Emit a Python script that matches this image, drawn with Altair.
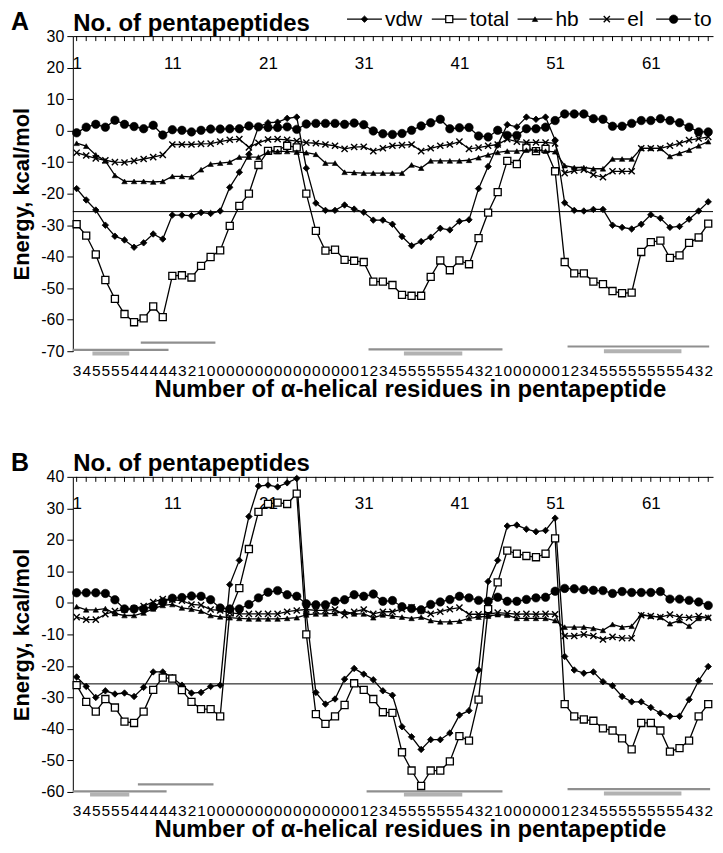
import json
import altair as alt
import pandas as pd

FONT = "Liberation Sans"
series = ["vdw", "total", "hb", "el", "to"]
idx = list(range(1, 68))
top_labels = [1, 11, 21, 31, 41, 51, 61]
helical = ([3, 4, 5, 5, 5, 5, 4, 4, 4, 4, 4, 3, 2, 1] + [0] * 16 +
           [1, 2, 3, 4, 5, 5, 5, 5, 5, 5, 5, 4, 3, 2, 1] + [0] * 6 +
           [1, 2, 3, 4] + [5] * 9 + [4, 3, 2])
threshold = [-25.7]

# ---------------- Panel A ----------------
A_vdw = [-18.4, -22.0, -25.2, -30.0, -33.5, -34.7, -37.0, -35.6, -32.8, -34.4,
         -26.8, -26.8, -27.0, -26.0, -26.3, -25.5, -18.0, -13.2, -7.5, 1.2,
         2.5, 2.7, 3.9, 4.3, -11.9, -23.0, -25.3, -25.3, -23.6, -24.9,
         -25.9, -28.4, -28.4, -29.7, -33.6, -36.5, -35.2, -33.8, -31.0, -31.5,
         -28.8, -28.3, -18.4, -11.4, -4.6, 1.9, 1.2, 4.3, 3.6, 4.3,
         -3.0, -22.9, -25.3, -25.5, -25.0, -25.0, -30.0, -30.7, -31.2, -29.7,
         -26.7, -27.8, -30.7, -30.4, -28.1, -25.5, -22.6]
A_total = [-29.7, -33.3, -39.3, -47.4, -53.4, -58.2, -60.8, -59.6, -55.8, -59.2,
           -46.1, -45.9, -46.6, -42.9, -40.1, -38.0, -30.2, -23.9, -20.0, -10.9,
           -6.4, -6.2, -4.8, -5.3, -20.0, -31.8, -38.1, -37.8, -41.0, -41.3,
           -41.7, -47.9, -47.9, -49.0, -52.1, -52.4, -52.4, -46.4, -41.2, -44.3,
           -41.2, -42.4, -34.1, -26.0, -19.5, -9.6, -10.6, -5.4, -6.5, -5.8,
           -12.9, -41.7, -45.3, -45.3, -47.9, -48.7, -50.9, -51.6, -51.4, -38.5,
           -35.4, -34.9, -40.4, -39.6, -35.6, -33.9, -29.5]
A_hb = [-4.0, -4.9, -7.7, -9.6, -14.2, -16.1, -16.1, -16.1, -16.3, -16.1,
        -14.5, -14.5, -14.7, -12.4, -10.6, -10.3, -10.0, -8.4, -8.4, -8.4,
        -6.8, -6.6, -6.6, -6.8, -7.0, -7.5, -10.3, -10.3, -13.2, -13.3,
        -13.5, -13.5, -13.5, -13.5, -13.5, -10.9, -11.9, -9.6, -9.6, -9.6,
        -9.6, -9.4, -8.6, -7.7, -6.9, -6.5, -6.5, -6.2, -6.2, -6.5,
        -6.7, -11.1, -11.7, -11.7, -12.1, -12.1, -9.0, -9.0, -9.0, -5.6,
        -5.6, -5.6, -8.2, -7.2, -6.2, -4.8, -3.5]
A_el = [-7.0, -7.9, -8.8, -9.4, -10.0, -10.1, -9.6, -9.0, -8.4, -7.7,
        -4.4, -4.4, -4.4, -4.2, -4.1, -3.5, -2.9, -2.7, -5.3, -3.9,
        -2.8, -2.7, -2.9, -3.3, -3.8, -4.0, -4.4, -4.8, -5.8, -5.2,
        -5.1, -6.5, -5.6, -4.8, -4.6, -4.4, -6.5, -5.6, -4.8, -4.4,
        -3.5, -5.8, -5.4, -4.8, -4.4, -2.7, -3.5, -3.75, -3.75, -3.75,
        -4.05, -13.5, -12.7, -12.4, -14.0, -14.8, -12.9, -12.9, -12.9, -5.6,
        -5.6, -5.6, -4.8, -4.05, -3.0, -2.5, -2.0]
A_to = [-0.7, 1.1, 2.0, 1.1, 3.3, 2.0, 1.3, 0.6, 1.7, -1.4,
        0.3, 0.1, -0.4, 0.1, 0.5, 0.5, 0.6, 0.6, 1.5, 1.2,
        1.0, 1.0, 1.2, 0.4, 2.1, 2.3, 2.3, 2.3, 2.0, 2.4,
        1.9, -0.1, -1.0, -1.2, -0.9, 0.1, 1.5, 2.5, 3.6, 0.6,
        0.9, 1.0, -1.7, -2.0, 0.1, -1.5, -1.5, 0.6, 0.6, 1.1,
        3.2, 5.3, 5.3, 5.3, 3.8, 3.6, 1.4, 1.4, 2.3, 3.2,
        3.2, 3.8, 3.2, 2.5, 1.1, -0.4, -0.4]

# ---------------- Panel B ----------------
B_vdw = [-23.5, -26.5, -30.0, -27.9, -28.9, -28.6, -29.7, -26.8, -21.9, -21.9,
         -23.7, -26.1, -28.6, -28.4, -26.5, -26.1, 5.8, 13.5, 27.4, 37.1,
         37.4, 36.8, 38.1, 39.5, -3.5, -28.4, -32.1, -30.5, -24.2, -20.8,
         -22.6, -24.4, -27.9, -29.3, -39.3, -42.5, -46.5, -43.4, -43.4, -41.3,
         -35.6, -34.2, -21.3, 6.8, 13.5, 24.4, 24.7, 23.4, 22.6, 23.0,
         26.9, -17.0, -21.3, -22.3, -21.9, -25.0, -26.3, -29.7, -31.4, -31.4,
         -33.2, -35.0, -36.0, -36.0, -30.7, -24.7, -20.2]
B_total = [-26.1, -31.4, -34.5, -30.5, -33.2, -37.7, -38.1, -34.5, -27.6, -23.7,
           -24.0, -27.7, -31.4, -33.7, -33.7, -36.0, -3.0, 4.7, 17.1, 28.9,
           31.4, 31.8, 31.4, 34.7, -10.0, -35.3, -38.4, -36.0, -32.4, -25.5,
           -27.6, -30.5, -34.7, -34.9, -47.4, -53.2, -58.1, -53.2, -53.2, -50.3,
           -42.3, -43.7, -30.7, -2.0, 6.5, 16.6, 15.6, 14.9, 14.5, 15.6,
           20.5, -32.1, -36.0, -37.0, -37.4, -39.8, -40.5, -43.0, -46.5, -38.1,
           -38.1, -40.5, -47.2, -46.1, -43.7, -36.0, -32.1]
B_hb = [-1.2, -2.2, -2.2, -1.8, -3.4, -4.0, -4.0, -3.2, -1.9, -0.8,
        -0.5, -1.6, -2.0, -2.6, -4.0, -4.4, -4.7, -4.9, -5.1, -5.1,
        -5.1, -5.1, -4.9, -4.7, -3.8, -3.5, -3.5, -3.3, -2.7, -3.5,
        -3.5, -4.7, -3.8, -4.2, -4.5, -4.9, -4.5, -5.6, -6.0, -6.0,
        -5.8, -4.9, -4.5, -4.2, -3.7, -3.9, -4.9, -4.9, -4.9, -4.9,
        -5.6, -7.7, -7.7, -7.7, -8.1, -8.7, -6.8, -7.7, -7.4, -3.7,
        -4.2, -4.5, -6.6, -5.6, -7.4, -4.9, -4.5]
B_el = [-4.5, -5.3, -5.3, -3.6, -2.6, -2.1, -1.8, -1.0, 0.3, 1.2,
        1.0, 0.7, -0.5, -0.7, -2.1, -2.4, -3.1, -3.5, -3.5, -3.5,
        -3.5, -3.5, -2.8, -2.4, -2.1, -2.4, -2.4, -2.1, -3.9, -2.8,
        -2.1, -3.5, -2.8, -2.8, -2.0, -1.4, -2.4, -3.5, -2.8, -2.0,
        -1.5, -3.6, -3.6, -3.6, -3.1, -3.3, -3.6, -3.5, -3.6, -3.5,
        -3.6, -10.5, -10.5, -10.0, -10.5, -11.6, -10.8, -11.2, -11.2, -3.9,
        -4.2, -4.5, -3.7, -4.5, -4.7, -4.2, -4.7]
B_to = [3.2, 3.2, 3.2, 3.0, 1.0, -1.9, -1.9, -1.9, -1.2, 0.3,
        1.5, 1.7, 2.2, 2.1, 1.0, -1.6, -1.9, -1.9, -0.5, 1.6,
        3.4, 3.9, 2.6, 2.1, -0.3, -0.6, -0.6, 0.5, 1.0, 2.6,
        2.1, 2.8, 0.5, 0.75, -1.2, -1.8, -2.2, -0.5, 0.3, 1.05,
        2.1, 1.6, 0.8, 0.5, 1.8, 0.5, 0.5, 1.1, 1.6, 1.8,
        3.7, 4.6, 4.5, 4.2, 4.0, 3.9, 3.0, 3.6, 3.3, 3.3,
        3.3, 3.6, 1.2, 1.2, 0.8, 0.3, -0.8]

# helix marker segments (start, end in pentapeptide units, level in energy units)
A_thin_start = [0.6, 7.7, 31.5, 52.3]
A_thin_end = [10.6, 15.5, 45.5, 67.1]
A_thin_level = [-69.6, -67.3, -69.4, -68.5]
A_thick_start = [2.65, 35.2, 56.1]
A_thick_end = [6.5, 41.3, 64.2]
A_thick_level = [-70.7, -70.7, -70.0]

B_thin_start = [0.6, 7.4, 31.3, 52.3]
B_thin_end = [10.4, 15.3, 45.5, 67.2]
B_thin_level = [-59.8, -57.6, -59.8, -59.1]
B_thick_start = [2.4, 35.2, 56.1]
B_thick_end = [6.5, 41.3, 64.2]
B_thick_level = [-60.8, -60.8, -60.5]

for arr in [A_vdw, A_total, A_hb, A_el, A_to, B_vdw, B_total, B_hb, B_el, B_to, helical]:
    assert len(arr) == 67, len(arr)

XPATH = "M-1,-1L1,1M-1,1L1,-1"
marker_style = {
    "vdw": dict(shape="diamond", size=42, filled=True, fill="black", stroke="black", strokeWidth=0.8),
    "total": dict(shape="square", size=50, filled=True, fill="white", stroke="black", strokeWidth=1.3),
    "hb": dict(shape="triangle-up", size=30, filled=True, fill="black", stroke="black", strokeWidth=0.6),
    "el": dict(shape=XPATH, size=38, filled=False, stroke="black", strokeWidth=1.4),
    "to": dict(shape="circle", size=72, filled=True, fill="black", stroke="black", strokeWidth=0.6),
}

# legend layout (pixel offsets from the plot's top-left corner)
leg_line_x = [275, 360, 446, 518, 585]
LEG_Y = -17
LEG_LEN = 35

W = 642
X_DOMAIN = [0.6, 67.5]
digit_expr = json.dumps([str(h) for h in helical]) + "[datum.value - 1]"
neg_expr = "datum.value < 0 ? '-' + abs(datum.value) : '' + datum.value"


def panel(data, ydom, height, letter, thin, thick, legend):
    rows = []
    for s in series:
        for i, v in zip(idx, data[s]):
            rows.append({"idx": i, "series": s, "value": v})
    df = pd.DataFrame(rows)
    xs = alt.Scale(domain=X_DOMAIN, nice=False, zero=False)
    ys = alt.Scale(domain=ydom, nice=False, zero=False)

    bottom_axis = alt.Axis(
        orient="bottom", values=idx, labelExpr=digit_expr, domain=False, ticks=False,
        tickSize=0, grid=False, labelFont=FONT, labelFontSize=15.5, labelColor="black",
        labelBaseline="alphabetic", labelPadding=24, labelOverlap=False, labelFlush=False,
        labelBound=False, title="Number of α-helical residues in pentapeptide",
        titleFont=FONT, titleFontSize=24, titleFontWeight="bold", titleColor="black",
        titleBaseline="alphabetic", titleY=45, titleX=338, titleAlign="center")
    y_axis = alt.Axis(
        orient="left", values=list(range(ydom[0], ydom[1] + 1, 10)), labelExpr=neg_expr,
        tickSize=6, tickColor="black", domainColor="black", grid=False,
        labelFont=FONT, labelFontSize=16, labelColor="black", labelPadding=3,
        title="Energy, kcal/mol", titleFont=FONT, titleFontSize=22, titleFontWeight="bold",
        titleColor="black", titlePadding=7)
    top_axis = alt.Axis(
        orient="top", values=top_labels, ticks=False, tickSize=0, domain=True,
        domainColor="black", grid=False, labelFont=FONT, labelFontSize=17,
        labelColor="black", labelPadding=-32, labelBaseline="alphabetic",
        labelFlush=False, labelOverlap=False,
        title="No. of pentapeptides", titleFont=FONT, titleFontSize=24,
        titleFontWeight="bold", titleColor="black", titleAnchor="start",
        titleAlign="left", titleBaseline="alphabetic", titleX=0, titleY=-6)

    layers = []
    ticks = alt.Chart(pd.DataFrame({"idx": idx})).mark_rule(color="black", strokeWidth=1).encode(
        x=alt.X("idx:Q", scale=xs, axis=top_axis), y=alt.value(0), y2=alt.value(5))
    layers.append(ticks)

    thin_df = pd.DataFrame({"x0": thin[0], "x1": thin[1], "y": thin[2]})
    thick_df = pd.DataFrame({"x0": thick[0], "x1": thick[1], "y": thick[2]})
    layers.append(alt.Chart(thin_df).mark_rule(color="#8f8f8f", strokeWidth=2.2).encode(
        x=alt.X("x0:Q", scale=xs, axis=None), x2="x1:Q",
        y=alt.Y("y:Q", scale=ys, axis=None)))
    layers.append(alt.Chart(thick_df).mark_rule(color="#b2b2b2", strokeWidth=4).encode(
        x=alt.X("x0:Q", scale=xs, axis=None), x2="x1:Q",
        y=alt.Y("y:Q", scale=ys, axis=None)))
    layers.append(alt.Chart(pd.DataFrame({"y": threshold})).mark_rule(
        color="black", strokeWidth=1).encode(y=alt.Y("y:Q", scale=ys, axis=None)))

    first = True
    for s in series:
        sdf = df[df.series == s]
        layers.append(alt.Chart(sdf).mark_line(color="black", strokeWidth=1.3).encode(
            x=alt.X("idx:Q", scale=xs, axis=bottom_axis if first else None),
            y=alt.Y("value:Q", scale=ys, axis=y_axis if first else None)))
        first = False
        layers.append(alt.Chart(sdf).mark_point(opacity=1, **marker_style[s]).encode(
            x=alt.X("idx:Q", scale=xs, axis=None),
            y=alt.Y("value:Q", scale=ys, axis=None)))

    if legend:
        for i, s in enumerate(series):
            x0 = leg_line_x[i]
            one = pd.DataFrame({"label": [s]})
            layers.append(alt.Chart(one).mark_rule(color="black", strokeWidth=1.3).encode(
                x=alt.value(x0), x2=alt.value(x0 + LEG_LEN), y=alt.value(LEG_Y)))
            layers.append(alt.Chart(one).mark_point(opacity=1, **marker_style[s]).encode(
                x=alt.value(x0 + LEG_LEN / 2), y=alt.value(LEG_Y)))
            layers.append(alt.Chart(one).mark_text(
                font=FONT, fontSize=21, align="left", baseline="middle", color="black").encode(
                text="label:N", x=alt.value(x0 + LEG_LEN + 3), y=alt.value(LEG_Y + 1)))

    layers.append(alt.Chart(pd.DataFrame({"t": [letter]})).mark_text(
        font=FONT, fontSize=25, fontWeight="bold", align="left", baseline="alphabetic",
        color="black").encode(text="t:N", x=alt.value(-62), y=alt.value(-6)))

    return (alt.layer(*layers)
            .resolve_axis(x="independent", y="independent")
            .properties(width=W, height=height))


A = panel({"vdw": A_vdw, "total": A_total, "hb": A_hb, "el": A_el, "to": A_to},
          [-70, 30], 316, "A",
          (A_thin_start, A_thin_end, A_thin_level),
          (A_thick_start, A_thick_end, A_thick_level), True)
B = panel({"vdw": B_vdw, "total": B_total, "hb": B_hb, "el": B_el, "to": B_to},
          [-60, 40], 316, "B",
          (B_thin_start, B_thin_end, B_thin_level),
          (B_thick_start, B_thick_end, B_thick_level), False)

chart = (alt.vconcat(A, B, spacing=50)
         .properties(padding={"left": 2, "top": 0, "right": 0, "bottom": 4})
         .configure_view(stroke=None))
chart.save("out.html", embed_options={"renderer": "svg", "actions": False})
